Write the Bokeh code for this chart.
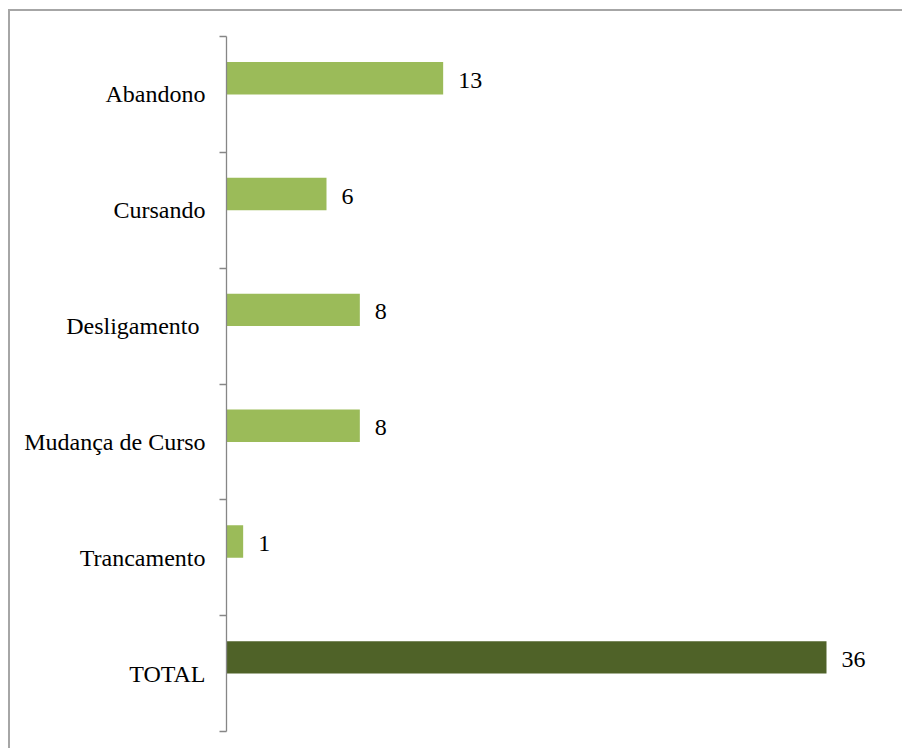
from bokeh.plotting import figure
from bokeh.models import Range1d, LinearAxis, FixedTicker, ColumnDataSource
from bokeh.core.properties import value
from bokeh.embed import file_html
from bokeh.resources import INLINE

categories = ["Abandono", "Cursando", "Desligamento ", "Mudança de Curso", "Trancamento", "TOTAL"]
counts = [13, 6, 8, 8, 1, 36]

FONT = "Liberation Serif"

n = len(categories)
centers = [n - i - 0.5 for i in range(n)]
bar_y = [c + 0.14 for c in centers]
colors = ["#4F6228" if c == "TOTAL" else "#9BBB59" for c in categories]
labels = [str(v) for v in counts]

src = ColumnDataSource(dict(cat=categories, v=counts, y=bar_y, color=colors, lab=labels))

p = figure(width=894, height=739, output_backend="svg", toolbar_location=None,
           x_range=Range1d(0, 40.68), y_range=Range1d(0, n),
           x_axis_location=None, y_axis_location=None,
           min_border_left=216, min_border_top=25, min_border_bottom=19, min_border_right=0)
p.outline_line_color = None
p.xgrid.visible = False
p.ygrid.visible = False
p.background_fill_color = "white"
p.border_fill_color = "white"
p.styles = {"border-top": "2px solid #a6a6a6", "border-left": "2px solid #a6a6a6",
            "margin-left": "8px", "margin-top": "9px"}

ticker = FixedTicker(ticks=centers, minor_ticks=[float(i) for i in range(n + 1)])
yaxis = LinearAxis(ticker=ticker)
yaxis.major_label_overrides = {c: cat for c, cat in zip(centers, categories)}
yaxis.major_tick_line_color = None
yaxis.major_tick_out = 0
yaxis.major_tick_in = 0
yaxis.minor_tick_out = 7
yaxis.minor_tick_in = 0
yaxis.minor_tick_line_color = "#868686"
yaxis.minor_tick_line_width = 1.3
yaxis.axis_line_color = "#868686"
yaxis.axis_line_width = 1.3
yaxis.major_label_standoff = 14
yaxis.major_label_text_font = FONT
yaxis.major_label_text_font_size = "24px"
yaxis.major_label_text_color = "black"
p.add_layout(yaxis, "left")

p.hbar(y="y", right="v", left=0, height=0.28, fill_color="color", line_color=None, source=src)
p.text(x="v", y="y", text="lab", x_offset=15, y_offset=2, text_align="left", text_baseline="middle",
       text_font=value(FONT), text_font_size="24px", text_color="black", source=src)

open("out.html", "w").write(file_html(p, INLINE))
